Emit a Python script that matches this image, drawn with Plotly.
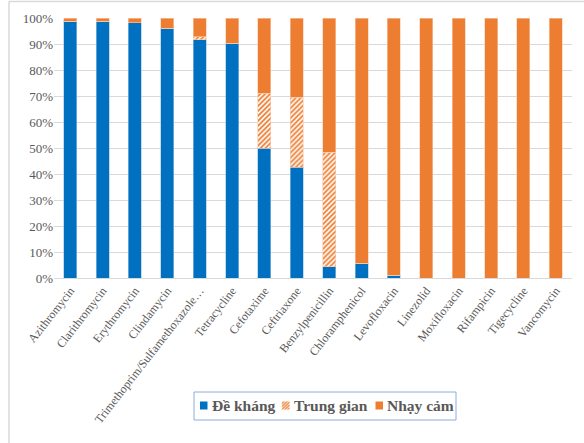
import plotly.graph_objects as go

categories = ["Azithromycin", "Clarithromycin", "Erythromycin", "Clindamycin",
              "Trimethoprim/Sulfamethoxazole…", "Tetracycline", "Cefotaxime",
              "Ceftriaxone", "Benzylpenicillin", "Chloramphenicol", "Levofloxacin",
              "Linezolid", "Moxifloxacin", "Rifampicin", "Tigecycline", "Vancomycin"]
resistant = [98.8, 98.8, 98.2, 96.0, 91.6, 90.2, 50.0, 42.6, 4.4, 5.6, 1.0, 0, 0, 0, 0, 0]
intermediate = [0, 0, 0, 0, 1.2, 0, 21.0, 27.0, 44.0, 0, 0, 0, 0, 0, 0, 0]
sensitive = [round(100 - r - i, 1) for r, i in zip(resistant, intermediate)]
series_names = ["Đề kháng", "Trung gian", "Nhạy cảm"]

blue = "#0070C0"
orange = "#ED7D31"
gray_text = "#595959"
serif = "Liberation Serif, Times New Roman, serif"

W, H = 584, 443
L, R, T, B = 54, 12, 18, 165
PW, PH = W - L - R, H - T - B


def px(X):
    return (X - L) / PW


def py(Y):
    return (H - B - Y) / PH


fig = go.Figure()
fig.add_trace(go.Bar(x=categories, y=resistant, name=series_names[0], showlegend=False,
                     marker=dict(color=blue, line=dict(color="#9DC3E6", width=0.6))))
fig.add_trace(go.Bar(x=categories, y=intermediate, name=series_names[1], showlegend=False,
                     marker=dict(color="white",
                                 pattern=dict(shape="/", fgcolor=orange, bgcolor="white",
                                              size=3.5, solidity=0.5, fillmode="replace"),
                                 line=dict(color="#F8CBAD", width=0.6))))
fig.add_trace(go.Bar(x=categories, y=sensitive, name=series_names[2], showlegend=False,
                     marker=dict(color=orange, line=dict(color="#F8CBAD", width=0.6))))

shapes = [
    # chart frame (top and left edges visible)
    dict(type="line", xref="paper", yref="paper", x0=px(9), x1=px(584), y0=py(1.5), y1=py(1.5),
         line=dict(color="#D9D9D9", width=1.5)),
    dict(type="line", xref="paper", yref="paper", x0=px(9), x1=px(9), y0=py(1.5), y1=py(443),
         line=dict(color="#D9D9D9", width=1.5)),
    # legend box
    dict(type="rect", xref="paper", yref="paper", x0=px(194), x1=px(456), y0=py(392), y1=py(420),
         line=dict(color="#8FAADC", width=1), fillcolor="white", layer="above"),
    # legend symbols
    dict(type="rect", xref="paper", yref="paper", x0=px(200), x1=px(207.5), y0=py(401.5), y1=py(409.5),
         line=dict(width=0), fillcolor=blue, layer="above"),
    dict(type="rect", xref="paper", yref="paper", x0=px(282), x1=px(289.5), y0=py(401.5), y1=py(409.5),
         line=dict(width=0), fillcolor="#F8CBAD", layer="above"),
    dict(type="rect", xref="paper", yref="paper", x0=px(375.5), x1=px(383), y0=py(401.5), y1=py(409.5),
         line=dict(width=0), fillcolor=orange, layer="above"),
]
# hatch strokes on the intermediate legend symbol
for k in range(-6, 9, 3):
    x0, y0 = 282 + max(k, 0), 409.5 - max(-k, 0)
    x1, y1 = 282 + min(7.5, k + 8), 409.5 - min(8, 7.5 - k)
    shapes.append(dict(type="line", xref="paper", yref="paper",
                       x0=px(x0), x1=px(x1), y0=py(y0), y1=py(y1),
                       line=dict(color=orange, width=1), layer="above"))

legend_text_x = [210, 292, 385]
annotations = [
    dict(text=f"<b>{name}</b>", xref="paper", yref="paper", x=px(xx), y=py(405.5),
         xanchor="left", yanchor="middle", showarrow=False,
         font=dict(family=serif, size=15.5, color=gray_text))
    for name, xx in zip(series_names, legend_text_x)
]

fig.update_layout(
    barmode="stack",
    bargap=0.6,
    width=W, height=H,
    margin=dict(l=L, r=R, t=T, b=B, autoexpand=False),
    paper_bgcolor="white", plot_bgcolor="white",
    font=dict(family=serif, color=gray_text, size=12),
    showlegend=False,
    xaxis=dict(tickangle=-52, tickfont=dict(size=12, color=gray_text), automargin=False,
               showline=True, linecolor="#D9D9D9", linewidth=1, ticks=""),
    yaxis=dict(range=[0, 100], dtick=10, ticksuffix="%", tickfont=dict(size=13, color=gray_text),
               automargin=False, gridcolor="#D9D9D9", gridwidth=1, zeroline=False, ticks=""),
    shapes=shapes,
    annotations=annotations,
)

fig.write_html("out.html", config={"displayModeBar": False},
               post_script="document.body.style.margin='0px';")
